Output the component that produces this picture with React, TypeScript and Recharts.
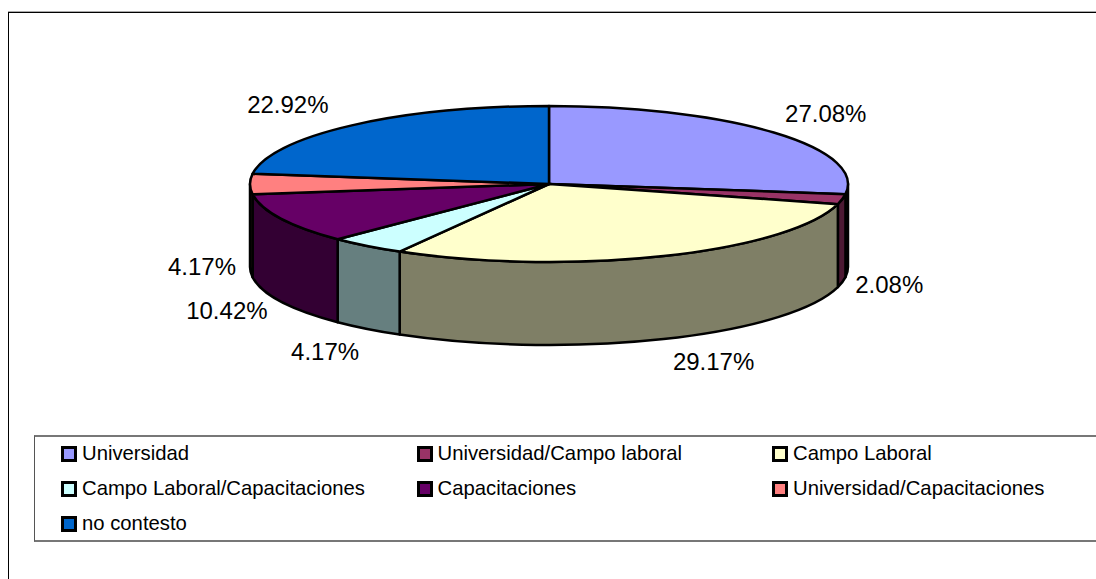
import { PieChart, Pie, Legend } from "recharts";

const categories = [
  "Universidad",
  "Universidad/Campo laboral",
  "Campo Laboral",
  "Campo Laboral/Capacitaciones",
  "Capacitaciones",
  "Universidad/Capacitaciones",
  "no contesto",
];
const values = [27.08, 2.08, 29.17, 4.17, 10.42, 4.17, 22.92];
const colors = ["#9999ff", "#993366", "#ffffcc", "#ccffff", "#660066", "#ff8080", "#0066cc"];
// label shift from the rim point of each slice
const labelShift = [
  [52, -19],
  [47, 85],
  [50, 105],
  [-42, 106],
  [-54, 92],
  [-48, 82],
  [-64, -21],
];

const pieData = categories.map((name, i) => ({ name, value: values[i], fill: colors[i] }));

const RY_RATIO = 78 / 299;
const DEPTH = 83;
const FONT = '"Liberation Sans", Arial, sans-serif';

function rim(cx: number, cy: number, r: number, deg: number, drop = 0) {
  const a = (deg * Math.PI) / 180;
  return `${cx + r * Math.cos(a)} ${cy - r * RY_RATIO * Math.sin(a) + drop}`;
}

function darken(hex: string) {
  const n = parseInt(hex.slice(1), 16);
  const half = (v: number) => Math.floor(v / 2);
  return `rgb(${half((n >> 16) & 255)},${half((n >> 8) & 255)},${half(n & 255)})`;
}

// slice tilted flat: top face as an elliptic sector, rim wall only on the front half
function Slice3D(props: any) {
  const { cx, cy, outerRadius: r, startAngle, endAngle, fill } = props;
  const ry = r * RY_RATIO;
  const from = Math.min(startAngle, 0);
  const to = Math.max(endAngle, -180);
  const large = startAngle - endAngle > 180 ? 1 : 0;
  return (
    <g stroke="#000" strokeWidth={2.5} strokeLinejoin="round">
      {from > to && (
        <path
          fill={darken(fill)}
          d={`M${rim(cx, cy, r, from)} A${r} ${ry} 0 0 1 ${rim(cx, cy, r, to)} L${rim(cx, cy, r, to, DEPTH)} A${r} ${ry} 0 0 0 ${rim(cx, cy, r, from, DEPTH)} Z`}
        />
      )}
      <path
        fill={fill}
        d={`M${cx} ${cy} L${rim(cx, cy, r, startAngle)} A${r} ${ry} 0 ${large} 1 ${rim(cx, cy, r, endAngle)} Z`}
      />
    </g>
  );
}

function PctLabel(props: any) {
  const { cx, cy, midAngle, outerRadius: r, index, value } = props;
  const a = (midAngle * Math.PI) / 180;
  const x = cx + r * Math.cos(a) + labelShift[index][0];
  const y = cy - r * RY_RATIO * Math.sin(a) + labelShift[index][1];
  return (
    <text x={x} y={y} textAnchor="middle" dominantBaseline="central" fontFamily={FONT} fontSize={24} fill="#000">
      {value.toFixed(2)}%
    </text>
  );
}

function LegendBox({ payload }: any) {
  return (
    <div
      style={{
        display: "grid",
        gridTemplateColumns: "355.5px 355.5px 355.5px",
        gridAutoRows: "35px",
        paddingLeft: 26,
        marginTop: -1,
        height: 103,
        boxSizing: "border-box",
        alignContent: "start",
        fontFamily: FONT,
        fontSize: 20.3,
        color: "#000",
      }}
    >
      {(payload ?? []).map((it: any) => (
        <div key={it.value} style={{ display: "flex", alignItems: "center", height: 35 }}>
          <span
            style={{
              width: 10,
              height: 10,
              border: "3px solid #000",
              background: it.color,
              marginRight: 5,
              flex: "none",
            }}
          />
          <span style={{ whiteSpace: "nowrap" }}>{it.value}</span>
        </div>
      ))}
    </div>
  );
}

export default function App() {
  return (
    <div style={{ position: "absolute", left: 0, top: 0, width: 1096, height: 579, overflow: "hidden", background: "#fff" }}>
      <div style={{ position: "absolute", left: 8, top: 12, width: 1100, height: 600, borderLeft: "1px solid #000", borderTop: "1px solid #000", boxShadow: "0 -1px 0 #aaa" }} />
      <PieChart width={1096} height={579} margin={{ top: 0, right: 0, bottom: 0, left: 0 }} style={{ position: "absolute", left: 0, top: 0 }}>
        <Pie
          data={pieData}
          dataKey="value"
          nameKey="name"
          cx={549}
          cy={184}
          innerRadius={0}
          outerRadius={299}
          startAngle={90}
          endAngle={-270}
          shape={Slice3D}
          label={PctLabel}
          labelLine={false}
          isAnimationActive={false}
        />
        <Legend
          content={LegendBox}
          itemSorter={null}
          wrapperStyle={{
            position: "absolute",
            left: 34,
            top: 435,
            bottom: "auto",
            width: 1100,
            height: 107,
            borderTop: "2px solid #777",
            borderBottom: "2px solid #777",
            borderLeft: "1px solid #555",
            boxSizing: "border-box",
          }}
        />
      </PieChart>
    </div>
  );
}
